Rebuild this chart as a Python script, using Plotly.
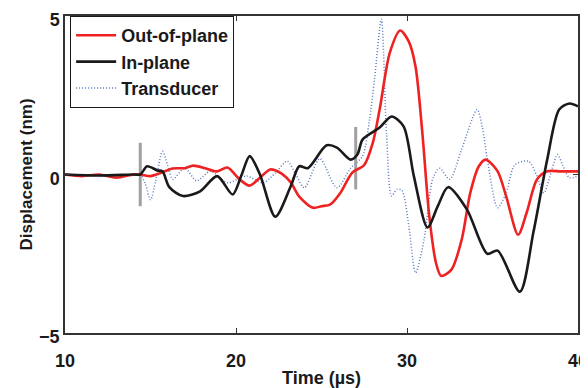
import plotly.graph_objects as go

# Out-of-plane (red)
red_t = [10, 11, 12, 13, 14, 14.4, 15, 15.6, 16.3, 17.0, 17.5, 18.2, 18.9, 19.5, 20.2, 20.8,
         21.4, 22.0, 22.6, 23.2, 23.7, 24.5, 25.0, 25.5, 26.1, 26.8, 27.5, 28.0, 28.4, 29.0,
         29.6, 30.1, 30.5, 30.9, 31.3, 31.7, 32.0, 32.6, 33.2, 33.7, 34.2, 34.6, 35.3, 35.8,
         36.5, 37.0, 37.6, 38.2, 39.0, 40]
red_y = [0, -0.05, 0, -0.1, 0, 0, -0.05, 0.05, 0.19, 0.2, 0.28, 0.2, 0.1, 0.22, -0.15, -0.35,
         -0.1, 0.16, 0.05, -0.25, -0.7, -1.05, -1.0, -0.95, -0.58, 0.06, 0.3, 1.0, 2.05, 3.85,
         4.54, 4.2, 3.4, 1.3, -1.3, -2.8, -3.2, -3.0, -2.05, -0.58, 0.26, 0.47, 0.1, -0.69,
         -1.9, -1.2, -0.16, 0.1, 0.1, 0.1]

# In-plane (black)
blk_t = [10, 12, 14, 14.4, 14.8, 15.4, 15.7, 16.1, 16.9, 17.9, 18.9, 19.8, 20.3, 20.8, 21.4,
         22.3, 23.2, 23.7, 24.2, 25.3, 25.9, 26.7, 27.1, 27.4, 28.4, 29.1, 29.8, 30.4, 31.2,
         31.8, 32.4, 33.5, 34.7, 35.3, 36.6, 37.4, 38.2, 38.9, 39.5, 40]
blk_y = [0, -0.03, 0, 0, 0.26, 0.13, 0.1, -0.4, -0.68, -0.53, -0.05, -0.63, -0.05, 0.58, 0.0,
         -1.33, -0.37, 0.26, 0.2, 0.92, 0.85, 0.47, 0.63, 1.1, 1.48, 1.83, 1.52, -0.05, -1.67,
         -1.0, -0.4, -1.1, -2.5, -2.4, -3.7, -1.8, 0.47, 2.05, 2.24, 2.15]

# Transducer (blue dotted)
blu_t = [10, 12, 14, 14.4, 14.7, 15.0, 15.3, 15.7, 16.0, 16.3, 17.0, 17.7, 18.5, 19.5, 20.6,
         21.6, 22.3, 23.0, 23.5, 24.0, 24.9, 25.9, 26.7, 27.4, 27.8, 28.1, 28.5, 28.8, 29.1,
         29.4, 29.7, 30.1, 30.5, 31.0, 31.5, 31.9, 32.5, 33.2, 34.1, 34.4, 34.7, 35.3, 35.8,
         36.3, 37.1, 37.6, 38.0, 38.8, 39.1, 39.5, 40]
blu_y = [0, -0.05, 0, 0, -0.3, -0.8, -0.2, 0.73, 0.3, -0.15, 0.2, -0.2, 0.1, -0.26, -0.05,
         -0.26, 0.05, 0.42, 0.0, -0.42, 0.5, -0.42, 0.2, 0.58, 1.7, 3.0, 4.9, 1.3, -0.68,
         -0.47, -0.5, -1.6, -3.1, -2.05, -0.15, 0.2, -0.15, 0.8, 2.05, 1.5, 0.47, -1.05, -0.58,
         0.3, 0.42, -0.05, -0.58, 0.63, 0.3, -0.1, -0.05]

# Gray time-window markers
mark1_t = [14.4, 14.4]
mark1_y = [-1.0, 1.0]
mark2_t = [27.0, 27.0]
mark2_y = [-0.47, 1.5]

x_ticks = [10, 20, 30, 40]
y_ticks = [-5, 0, 5]

FONT = "Liberation Sans, Arial, sans-serif"
BLUE = "#5a78c0"

fig = go.Figure()
fig.add_trace(go.Scatter(x=blu_t, y=blu_y, mode="lines", name="Transducer",
                         line=dict(color=BLUE, width=1.5, dash="1px,2px", shape="spline", smoothing=0.8),
                         showlegend=False))
fig.add_trace(go.Scatter(x=mark1_t, y=mark1_y, mode="lines", showlegend=False,
                         line=dict(color="#a0a0a0", width=3)))
fig.add_trace(go.Scatter(x=mark2_t, y=mark2_y, mode="lines", showlegend=False,
                         line=dict(color="#a0a0a0", width=3)))
fig.add_trace(go.Scatter(x=red_t, y=red_y, mode="lines", name="Out-of-plane",
                         line=dict(color="#ee2222", width=2.6, shape="spline", smoothing=0.8)))
fig.add_trace(go.Scatter(x=blk_t, y=blk_y, mode="lines", name="In-plane",
                         line=dict(color="#1a1a1a", width=2.6, shape="spline", smoothing=0.8)))
fig.add_trace(go.Scatter(x=[None], y=[None], mode="lines", name="Transducer",
                         line=dict(color=BLUE, width=1.5, dash="1px,2px")))

fig.update_layout(
    width=580, height=380,
    margin=dict(l=57, r=10, t=8, b=55, autoexpand=False),
    paper_bgcolor="white", plot_bgcolor="white",
    font=dict(family=FONT, size=18, color="#1a1a1a"),
    showlegend=True,
    legend=dict(x=0.01, y=1.0, xanchor="left", yanchor="top",
                bordercolor="#1a1a1a", borderwidth=1, bgcolor="white",
                font=dict(family=FONT, size=18, color="#1a1a1a", weight="bold"),
                tracegroupgap=0, itemwidth=40),
)
fig.update_xaxes(range=[10, 40], tickvals=x_ticks, ticktext=[f"<b>{v}</b>" for v in x_ticks],
                 ticks="inside", ticklen=5, tickcolor="#333", showline=True, linecolor="#333",
                 linewidth=1.5, mirror="ticks", showgrid=False, zeroline=False, automargin=False,
                 tickfont=dict(size=18), ticklabelstandoff=11, ticklabeloverflow="allow",
                 title=dict(text="<b>Time (µs)</b>", font=dict(size=18), standoff=13))
fig.update_yaxes(range=[-5, 5], tickvals=y_ticks, ticktext=["<b>\u22125</b>", "<b>0</b>", "<b>5</b>"],
                 ticks="inside", ticklen=5, tickcolor="#333", showline=True, linecolor="#333",
                 linewidth=1.5, mirror="ticks", showgrid=False, zeroline=False, automargin=False,
                 tickfont=dict(size=18), ticklabeloverflow="allow", ticklabelshift=4,
                 title=dict(text="<b>Displacement (nm)</b>", font=dict(size=17), standoff=2))

fig.write_html("out.html")
